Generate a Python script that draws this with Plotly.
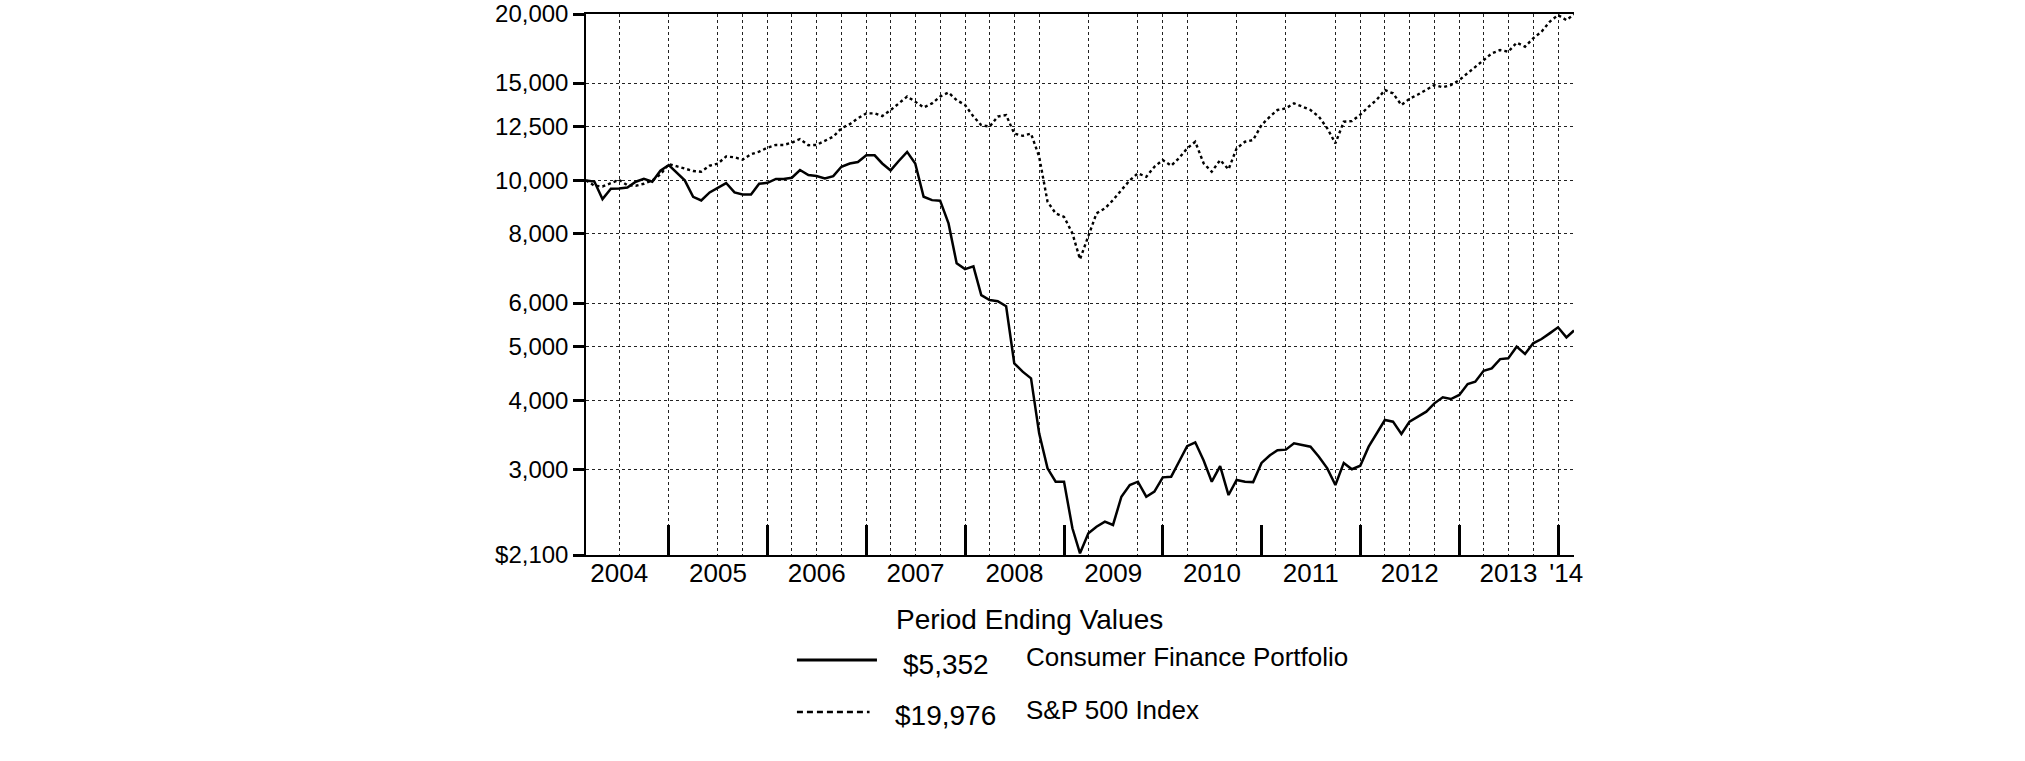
import math

import pandas as pd
import plotly.graph_objects as go

# month-end values, Feb 2004 .. Feb 2014 (growth of $10,000)
dates = pd.date_range("2004-02-29", periods=121, freq="ME")

portfolio = [
    10000, 9950, 9250, 9660, 9670, 9710, 9945, 10070, 9945, 10410,
    10660, 10320, 10000, 9340, 9200, 9510, 9700, 9890, 9510, 9430,
    9430, 9860, 9900, 10060, 10060, 10110, 10440, 10225, 10180, 10085,
    10180, 10585, 10730, 10795, 11100, 11100, 10730, 10425, 10840, 11260,
    10730, 9340, 9210, 9190, 8360, 7080, 6910, 6990, 6200, 6075,
    6045, 5920, 4667, 4507, 4383, 3486, 3013, 2850, 2850, 2347,
    2115, 2298, 2363, 2413, 2380, 2677, 2811, 2850, 2677, 2734,
    2902, 2910, 3090, 3304, 3358, 3112, 2850, 3042, 2696, 2870,
    2850, 2845, 3082, 3181, 3248, 3257, 3344, 3316, 3298, 3163,
    3013, 2811, 3082, 3002, 3046, 3298, 3486, 3685, 3660, 3476,
    3660, 3736, 3815, 3950, 4050, 4022, 4090, 4280, 4322, 4525,
    4569, 4750, 4764, 5002, 4852, 5072, 5164, 5287, 5422, 5200,
    5352,
]

sp500 = [
    10000, 9780, 9750, 9900, 10020, 9800, 9780, 9860, 10000, 10250,
    10700, 10600, 10520, 10400, 10370, 10630, 10720, 11050, 11010, 10900,
    11150, 11270, 11460, 11590, 11590, 11700, 11880, 11580, 11590, 11780,
    12000, 12420, 12640, 12950, 13220, 13220, 13070, 13400, 13780, 14180,
    13880, 13550, 13780, 14180, 14420, 13970, 13690, 13050, 12590, 12510,
    13050, 13130, 12150, 12040, 12150, 11040, 9150, 8716, 8590, 8019,
    7200, 7909, 8716, 8898, 9212, 9605, 10000, 10296, 10154, 10585,
    10884, 10630, 10960, 11425, 11747, 10735, 10368, 10884, 10470, 11425,
    11747, 11830, 12596, 13041, 13408, 13500, 13784, 13594, 13408, 13041,
    12423, 11667, 12770, 12800, 13150, 13594, 13977, 14571, 14370, 13690,
    14050, 14300, 14571, 14878, 14740, 14878, 15190, 15617, 16054, 16506,
    16970, 17210, 17090, 17746, 17454, 18070, 18575, 19365, 19910, 19500,
    19976,
]

y_ticks = [2100, 3000, 4000, 5000, 6000, 8000, 10000, 12500, 15000, 20000]
y_labels = ["$2,100", "3,000", "4,000", "5,000", "6,000", "8,000",
            "10,000", "12,500", "15,000", "20,000"]

year_bounds = ["2004-12-31", "2005-12-31", "2006-12-31", "2007-12-31",
               "2008-12-31", "2009-12-31", "2010-12-31", "2011-12-31",
               "2012-12-31", "2013-12-31"]
year_mids = ["2004-07-01", "2005-07-01", "2006-07-01", "2007-07-01",
             "2008-07-01", "2009-07-01", "2010-07-01", "2011-07-01",
             "2012-07-01", "2013-07-01", "2014-01-30"]
year_labels = ["2004", "2005", "2006", "2007", "2008", "2009", "2010",
               "2011", "2012", "2013", "'14"]

grid_dates = [
    "2004-06-30", "2004-12-31", "2005-06-30", "2005-09-30",
    "2005-12-31", "2006-03-31", "2006-06-30", "2006-09-30",
    "2006-12-31", "2007-03-31", "2007-06-30", "2007-09-30",
    "2007-12-31", "2008-03-31", "2008-06-30", "2008-09-30",
    "2009-03-31", "2009-09-30", "2009-12-31", "2010-03-31",
    "2010-09-30", "2011-03-31", "2011-09-30", "2011-12-31",
    "2012-03-31", "2012-06-30", "2012-09-30", "2012-12-31",
    "2013-03-31", "2013-06-30", "2013-09-30", "2013-12-31",
]

FONT = "Liberation Sans, Arial, Helvetica, sans-serif"
GRID = "#222222"

fig = go.Figure()

fig.add_trace(go.Scatter(
    x=dates, y=portfolio, mode="lines",
    line=dict(color="black", width=2.5),
    name="Consumer Finance Portfolio", showlegend=False,
))
fig.add_trace(go.Scatter(
    x=dates, y=sp500, mode="lines", xaxis="x2",
    line=dict(color="black", width=2.4, dash="3px,3px"),
    name="S&P 500 Index", showlegend=False,
))

fig.update_layout(
    width=2025, height=761,
    margin=dict(l=586, r=451, t=14, b=206, autoexpand=False),
    paper_bgcolor="white", plot_bgcolor="white",
    font=dict(family=FONT, color="black"),
    xaxis=dict(
        type="date", range=[dates[0], dates[-1]], automargin=False,
        showline=True, linecolor="black", linewidth=1.5, mirror=True,
        tickmode="array", tickvals=year_bounds, showticklabels=False,
        ticks="inside", ticklen=30, tickwidth=3, tickcolor="black",
        showgrid=False, zeroline=False,
        minor=dict(tickmode="array", tickvals=grid_dates, ticks="",
                   showgrid=True, gridcolor=GRID, griddash="dot", gridwidth=1),
    ),
    xaxis2=dict(
        type="date", overlaying="x", matches="x", anchor="y", side="bottom",
        automargin=False, ticklabeloverflow="allow",
        tickmode="array", tickvals=year_mids, ticktext=year_labels,
        ticks="", showline=False, showgrid=False, zeroline=False,
        tickfont=dict(size=26, family=FONT, color="black"),
    ),
    yaxis=dict(
        type="log", range=[math.log10(2100), math.log10(20000)],
        automargin=False, ticklabeloverflow="allow",
        tickmode="array", tickvals=y_ticks, ticktext=y_labels,
        ticks="outside", ticklen=11, tickwidth=3, tickcolor="black",
        showline=True, linecolor="black", linewidth=1.5,
        showgrid=True, gridcolor=GRID, griddash="dot", gridwidth=1,
        zeroline=False,
        tickfont=dict(size=24, family=FONT, color="black"),
    ),
)

# legend block under the chart
fig.add_annotation(text="Period Ending Values", xref="paper", yref="paper",
                   x=0.449, y=-0.120, xanchor="center", yanchor="middle",
                   showarrow=False, font=dict(size=28, family=FONT))
fig.add_shape(type="line", xref="paper", yref="paper",
              x0=0.2135, x1=0.2945, y0=-0.194, y1=-0.194,
              line=dict(color="black", width=3))
fig.add_shape(type="line", xref="paper", yref="paper",
              x0=0.2135, x1=0.287, y0=-0.290, y1=-0.290,
              line=dict(color="black", width=2.5, dash="6px,4px"))
fig.add_annotation(text="$5,352", xref="paper", yref="paper",
                   x=0.3643, y=-0.203, xanchor="center", yanchor="middle",
                   showarrow=False, font=dict(size=28, family=FONT))
fig.add_annotation(text="$19,976", xref="paper", yref="paper",
                   x=0.3643, y=-0.297, xanchor="center", yanchor="middle",
                   showarrow=False, font=dict(size=28, family=FONT))
fig.add_annotation(text="Consumer Finance Portfolio", xref="paper", yref="paper",
                   x=0.4432, y=-0.188, xanchor="left", yanchor="middle",
                   showarrow=False, font=dict(size=26, family=FONT))
fig.add_annotation(text="S&amp;P 500 Index", xref="paper", yref="paper",
                   x=0.4432, y=-0.287, xanchor="left", yanchor="middle",
                   showarrow=False, font=dict(size=26, family=FONT))

# drop the browser's default 8px body margin so the figure sits at 0,0
fig.write_html("out.html", config={"displayModeBar": False},
               post_script="document.body.style.margin = '0';")
